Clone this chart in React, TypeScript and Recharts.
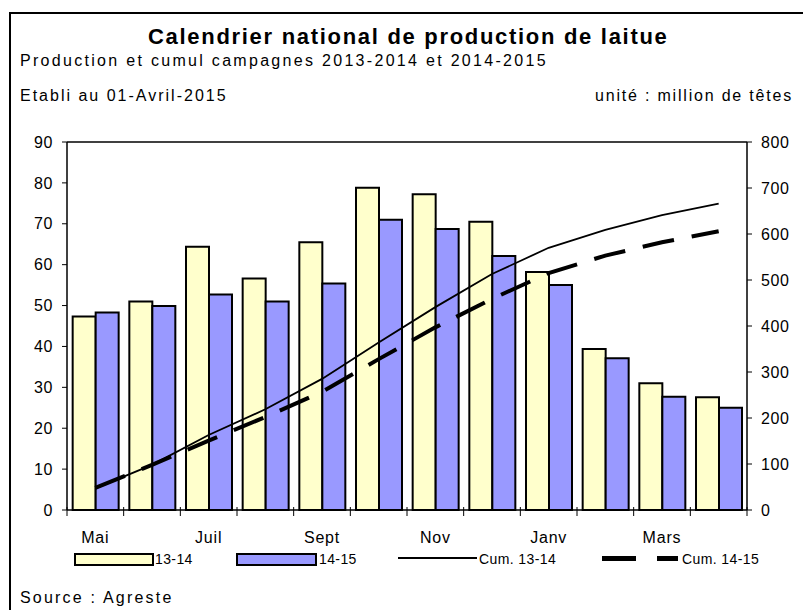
import React from "react";
import {
  ComposedChart,
  Bar,
  Line,
  XAxis,
  YAxis,
  ReferenceLine,
} from "recharts";

const months = ["Mai", "Juin", "Juil", "Août", "Sept", "Oct", "Nov", "Déc", "Janv", "Févr", "Mars", "Avril"];
const prod1314 = [47.3, 51.0, 64.4, 56.6, 65.5, 78.8, 77.2, 70.5, 58.2, 39.4, 31.0, 27.6];
const prod1415 = [48.3, 49.9, 52.7, 51.0, 55.4, 71.0, 68.7, 62.1, 55.0, 37.1, 27.7, 25.0];
const cum1314 = [47, 98, 163, 219, 285, 364, 441, 513, 570, 609, 641, 666];
const cum1415 = [48, 98, 151, 202, 257, 328, 397, 459, 515, 553, 582, 606];
const leftTicks = [0, 10, 20, 30, 40, 50, 60, 70, 80, 90];
const rightTicks = [0, 100, 200, 300, 400, 500, 600, 700, 800];

const data = months.map((m, i) => ({
  month: m,
  p1314: prod1314[i],
  p1415: prod1415[i],
  c1314: cum1314[i],
  c1415: cum1415[i],
}));

const FONT = "'Liberation Sans', Arial, sans-serif";
const YELLOW = "#FFFFCC";
const BLUE = "#9999FF";

function MonthTick(props: any) {
  const { x, y, payload, index } = props;
  const half = payload?.offset ?? 680 / months.length / 2;
  return (
    <g>
      <line x1={x - half} x2={x - half} y1={y - 3} y2={y + 6} stroke="#000" strokeWidth={1} />
      {index === months.length - 1 && (
        <line x1={x + half} x2={x + half} y1={y - 3} y2={y + 6} stroke="#000" strokeWidth={1} />
      )}
      {index % 2 === 0 && (
        <text x={x} y={y + 33} textAnchor="middle" fontSize={16} fill="#000" fontFamily={FONT} letterSpacing={0.8}>
          {payload.value}
        </text>
      )}
    </g>
  );
}

function LegendItems() {
  const txt: React.CSSProperties = { position: "absolute", top: 551, fontSize: 14, letterSpacing: 0.4, lineHeight: "16px" };
  return (
    <>
      <div style={{ position: "absolute", left: 74, top: 553, width: 76, height: 9, background: YELLOW, border: "2px solid #000" }} />
      <div style={{ ...txt, left: 155 }}>13-14</div>
      <div style={{ position: "absolute", left: 236, top: 553, width: 77, height: 9, background: BLUE, border: "2px solid #000" }} />
      <div style={{ ...txt, left: 319 }}>14-15</div>
      <div style={{ position: "absolute", left: 398, top: 557, width: 79, height: 2, background: "#000" }} />
      <div style={{ ...txt, left: 479 }}>Cum. 13-14</div>
      <div style={{ position: "absolute", left: 602, top: 556, width: 34, height: 5, background: "#000" }} />
      <div style={{ position: "absolute", left: 657, top: 556, width: 21, height: 5, background: "#000" }} />
      <div style={{ ...txt, left: 682 }}>Cum. 14-15</div>
    </>
  );
}

export default function App() {
  return (
    <div
      style={{
        position: "fixed",
        left: 0,
        top: 0,
        width: 803,
        height: 610,
        overflow: "hidden",
        background: "#fff",
        fontFamily: FONT,
        color: "#000",
      }}
    >
      <div style={{ position: "absolute", left: 9, top: 12, right: 0, bottom: 0, borderLeft: "2px solid #000", borderTop: "2px solid #000" }} />
      <div style={{ position: "absolute", left: 148, top: 23, whiteSpace: "nowrap", fontSize: 22, fontWeight: "bold", letterSpacing: 1.7, lineHeight: "28px" }}>
        Calendrier national de production de laitue
      </div>
      <div style={{ position: "absolute", left: 20, top: 51, whiteSpace: "nowrap", fontSize: 16, letterSpacing: 2.3, lineHeight: "20px" }}>
        Production et cumul campagnes 2013-2014 et 2014-2015
      </div>
      <div style={{ position: "absolute", left: 20, top: 86, whiteSpace: "nowrap", fontSize: 16, letterSpacing: 2.0, lineHeight: "20px" }}>
        Etabli au 01-Avril-2015
      </div>
      <div style={{ position: "absolute", right: 10, top: 86, whiteSpace: "nowrap", fontSize: 16, letterSpacing: 1.8, lineHeight: "20px" }}>
        unité : million de têtes
      </div>

      <div style={{ position: "absolute", left: 0, top: 0 }}>
        <ComposedChart
          width={803}
          height={610}
          data={data}
          margin={{ top: 142, right: 6, bottom: 70, left: 17 }}
          barGap={0}
          barCategoryGap="10%"
        >
          <XAxis
            dataKey="month"
            height={30}
            interval={0}
            tickLine={false}
            tickSize={0}
            tickMargin={0}
            axisLine={{ stroke: "#000", strokeWidth: 1.5 }}
            tick={<MonthTick />}
          />
          <YAxis
            yAxisId="left"
            width={50}
            domain={[0, 90]}
            ticks={leftTicks}
            interval={0}
            tickSize={5}
            tickMargin={9}
            axisLine={{ stroke: "#000", strokeWidth: 1.5 }}
            tickLine={{ stroke: "#000" }}
            tick={{ fill: "#000", fontSize: 16, fontFamily: FONT, letterSpacing: 0.6 }}
          />
          <YAxis
            yAxisId="right"
            orientation="right"
            width={50}
            domain={[0, 800]}
            ticks={rightTicks}
            interval={0}
            tickSize={5}
            tickMargin={9}
            axisLine={{ stroke: "#000", strokeWidth: 1.5 }}
            tickLine={{ stroke: "#000" }}
            tick={{ fill: "#000", fontSize: 16, fontFamily: FONT, letterSpacing: 0.6 }}
          />
          <ReferenceLine yAxisId="left" y={90} stroke="#000" strokeWidth={1.5} />
          <Bar yAxisId="left" dataKey="p1314" name="13-14" fill={YELLOW} stroke="#000" strokeWidth={2} isAnimationActive={false} />
          <Bar yAxisId="left" dataKey="p1415" name="14-15" fill={BLUE} stroke="#000" strokeWidth={2} isAnimationActive={false} />
          <Line yAxisId="right" type="linear" dataKey="c1314" name="Cum. 13-14" stroke="#000" strokeWidth={1.8} dot={false} isAnimationActive={false} />
          <Line yAxisId="right" type="linear" dataKey="c1415" name="Cum. 14-15" stroke="#000" strokeWidth={4} strokeDasharray="32 18" dot={false} isAnimationActive={false} />
        </ComposedChart>
      </div>

      <LegendItems />
      <div style={{ position: "absolute", left: 20, top: 588, whiteSpace: "nowrap", fontSize: 16, letterSpacing: 2.2, lineHeight: "20px" }}>
        Source : Agreste
      </div>
    </div>
  );
}
